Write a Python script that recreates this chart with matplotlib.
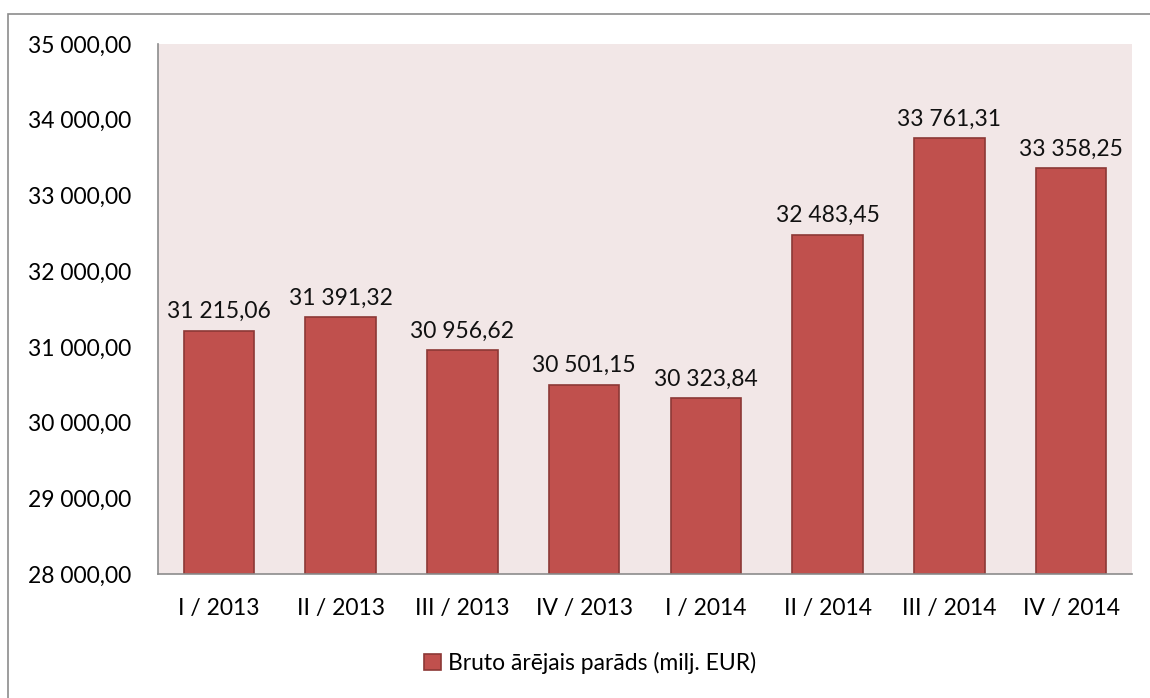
import matplotlib.pyplot as plt
from matplotlib.patches import Rectangle

quarters = ['I / 2013', 'II / 2013', 'III / 2013', 'IV / 2013',
            'I / 2014', 'II / 2014', 'III / 2014', 'IV / 2014']
debt = [31215.06, 31391.32, 30956.62, 30501.15, 30323.84, 32483.45, 33761.31, 33358.25]
yticks = [28000, 29000, 30000, 31000, 32000, 33000, 34000, 35000]
series_name = 'Bruto ārējais parāds (milj. EUR)'


def fmt(v):
    s = f'{v:,.2f}'
    return s.replace(',', ' ').replace('.', ',')


plt.rcParams['font.family'] = ['Lato', 'DejaVu Sans']
W, H = 1150, 698
fs = 16.5
fig = plt.figure(figsize=(W / 100, H / 100), dpi=100)

# outer chart frame
fig.patches.append(Rectangle((8 / W, -0.01), 1.2, 1 - 14 / H + 0.01, transform=fig.transFigure,
                             fill=False, edgecolor='#8c8c8c', linewidth=1.2))

ax = fig.add_axes([158 / W, 1 - 574 / H, (1132 - 158) / W, (574 - 44) / H])
ax.set_facecolor('#f2e7e7')

x = range(len(quarters))
bars = ax.bar(x, [v - yticks[0] for v in debt], bottom=yticks[0], width=0.58,
              color='#c0504d', edgecolor='#8c3836', linewidth=1.2, label=series_name)
for xi, v in zip(x, debt):
    ax.text(xi, v + 110, fmt(v), ha='center', va='bottom', fontsize=fs, color='#111111')

ax.set_xlim(-0.5, len(quarters) - 0.5)
ax.set_ylim(yticks[0], yticks[-1])
ax.set_yticks(yticks)
ax.set_yticklabels([fmt(t) for t in yticks], fontsize=fs)
ax.set_xticks(list(x))
ax.set_xticklabels(quarters, fontsize=fs)
ax.tick_params(axis='x', length=0, pad=17.5)
ax.tick_params(axis='y', length=0, pad=19.5)
for side in ['top', 'right']:
    ax.spines[side].set_visible(False)
for side in ['left', 'bottom']:
    ax.spines[side].set_color('#8c8c8c')
    ax.spines[side].set_linewidth(1.2)

fig.legend(handles=[bars], labels=[series_name], loc='center', bbox_to_anchor=(590 / W, 1 - 663 / H),
           frameon=False, fontsize=fs, handlelength=0.75, handleheight=0.75, handletextpad=0.3)

fig.savefig('out.png', dpi=100)
